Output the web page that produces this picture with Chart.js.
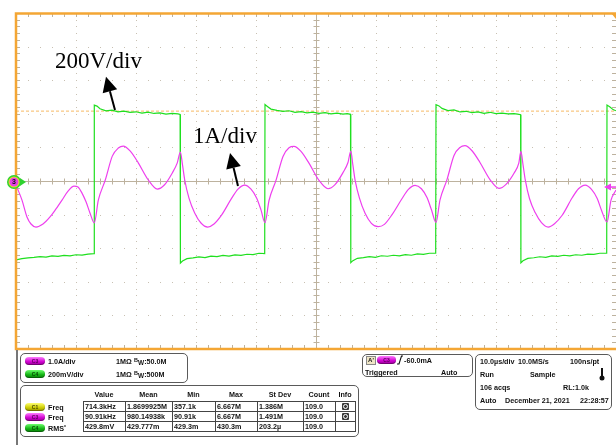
<!DOCTYPE html>
<html>
<head>
<meta charset="utf-8">
<script src="https://cdn.jsdelivr.net/npm/chart.js@4.4.1/dist/chart.umd.min.js"></script>
<style>
html, body { margin: 0; padding: 0; background: #fff; }
body { width: 616px; height: 445px; position: relative; overflow: hidden; font-family: "Liberation Sans", Arial, sans-serif; }
#wrap { position: absolute; left: 0; top: 0; width: 616px; height: 352px; }
.panel { position: absolute; border: 1.5px solid #5a5a5a; border-radius: 5px; background: #fff; box-sizing: border-box; }
.t { position: absolute; font-size: 7.2px; font-weight: bold; color: #111; white-space: nowrap; line-height: 9px; }
.hd { position: absolute; font-size: 7.2px; font-weight: bold; color: #111; text-align: center; line-height: 9px; }
.badge { position: absolute; width: 20px; height: 8px; border-radius: 4px; font-size: 5px; font-weight: bold; line-height: 8px; text-align: center; box-shadow: inset 0 -1px 1px rgba(0,0,0,0.35); }
.c3 { background: linear-gradient(#ff7cff, #d000d0 60%, #a000a0); color: #5a005a; }
.c4 { background: linear-gradient(#6cff6c, #13b313 60%, #0a860a); color: #054a05; }
.c1 { background: linear-gradient(#ffff70, #cccc00 60%, #9a9a00); color: #4a4a00; }
table.meas { position: absolute; left: 83px; top: 401px; border-collapse: collapse; table-layout: fixed; }
table.meas td { border: 1px solid #444; padding: 0 0 0 1px; height: 9px; line-height: 9px; font-size: 7.2px; font-weight: bold; color: #111; white-space: nowrap; overflow: hidden; }
.info { display: inline-block; width: 7px; height: 7px; background: #3a3a3a; border-radius: 1px; position: relative; top: 1px; left: 5px; }
.info::after { content: ""; position: absolute; left: 1px; top: 1px; width: 3px; height: 3px; border: 1px solid #fff; border-radius: 50%; box-sizing: content-box; }
</style>
</head>
<body>
<div id="wrap"><canvas id="scope"></canvas></div>

<!-- lower read-out panel -->
<div style="position:absolute;left:16px;top:350px;width:1.5px;height:95px;background:#777;"></div>

<div class="panel" style="left:20px;top:353px;width:168px;height:30px;"></div>
<div class="badge c3" style="left:25px;top:357px;">C3</div>
<div class="t" style="left:48px;top:357px;">1.0A/div</div>
<div class="t" style="left:116px;top:357px;">1MΩ</div>
<div class="t" style="left:134px;top:357px;"><span style="font-size:5.5px;position:relative;top:-2px;">B</span><span style="font-size:6.5px;position:relative;top:1px;">W</span>:50.0M</div>
<div class="badge c4" style="left:25px;top:370px;">C4</div>
<div class="t" style="left:48px;top:370px;">200mV/div</div>
<div class="t" style="left:116px;top:370px;">1MΩ</div>
<div class="t" style="left:134px;top:370px;"><span style="font-size:5.5px;position:relative;top:-2px;">B</span><span style="font-size:6.5px;position:relative;top:1px;">W</span>:500M</div>

<div class="panel" style="left:20px;top:385px;width:339px;height:52px;"></div>
<div class="hd" style="left:83px;top:390px;width:42px;">Value</div>
<div class="hd" style="left:125px;top:390px;width:47px;">Mean</div>
<div class="hd" style="left:172px;top:390px;width:43px;">Min</div>
<div class="hd" style="left:215px;top:390px;width:42px;">Max</div>
<div class="hd" style="left:257px;top:390px;width:46px;">St Dev</div>
<div class="hd" style="left:303px;top:390px;width:32px;">Count</div>
<div class="hd" style="left:335px;top:390px;width:20px;">Info</div>
<div class="badge c1" style="left:25px;top:403px;">C1</div>
<div class="t" style="left:48px;top:403px;">Freq</div>
<div class="badge c3" style="left:25px;top:413px;">C3</div>
<div class="t" style="left:48px;top:413px;">Freq</div>
<div class="badge c4" style="left:25px;top:424px;">C4</div>
<div class="t" style="left:48px;top:424px;">RMS<span style="font-size:5px;position:relative;top:-2px;">*</span></div>
<table class="meas">
  <colgroup><col style="width:42px"><col style="width:47px"><col style="width:43px"><col style="width:42px"><col style="width:46px"><col style="width:32px"><col style="width:20px"></colgroup>
  <tr><td>714.3kHz</td><td>1.8699925M</td><td>357.1k</td><td>6.667M</td><td>1.386M</td><td>109.0</td><td><span class="info"></span></td></tr>
  <tr><td>90.91kHz</td><td>980.14938k</td><td>90.91k</td><td>6.667M</td><td>1.491M</td><td>109.0</td><td><span class="info"></span></td></tr>
  <tr><td>429.8mV</td><td>429.777m</td><td>429.3m</td><td>430.3m</td><td>203.2µ</td><td>109.0</td><td></td></tr>
</table>

<div class="panel" style="left:362px;top:354px;width:111px;height:23px;"></div>
<div style="position:absolute;left:366px;top:356px;width:8px;height:7px;background:#efe6c6;border:1px solid #888;font:bold 6px 'Liberation Sans',Arial;line-height:7px;text-align:center;color:#111;">A'</div>
<div class="badge c3" style="left:377px;top:356px;width:19px;">C3</div>
<svg style="position:absolute;left:397px;top:355px;" width="6" height="10"><path d="M0 9 L2 9 L4.5 1 L6 1" stroke="#111" stroke-width="1.1" fill="none"/></svg>
<div class="t" style="left:404px;top:356px;">-60.0mA</div>
<div class="t" style="left:365px;top:368px;">Triggered</div>
<div class="t" style="left:441px;top:368px;">Auto</div>

<div class="panel" style="left:475px;top:354px;width:137px;height:56px;"></div>
<div class="t" style="left:480px;top:357px;">10.0µs/div</div>
<div class="t" style="left:518px;top:357px;">10.0MS/s</div>
<div class="t" style="left:570px;top:357px;">100ns/pt</div>
<div class="t" style="left:480px;top:370px;">Run</div>
<div class="t" style="left:530px;top:370px;">Sample</div>
<svg style="position:absolute;left:599px;top:368px;" width="6" height="13"><rect x="2" y="0" width="2" height="9" fill="#111"/><circle cx="3" cy="10" r="2.5" fill="#111"/></svg>
<div class="t" style="left:480px;top:383px;">106 acqs</div>
<div class="t" style="left:563px;top:383px;">RL:1.0k</div>
<div class="t" style="left:480px;top:396px;">Auto</div>
<div class="t" style="left:505px;top:396px;">December 21, 2021</div>
<div class="t" style="left:580px;top:396px;">22:28:57</div>

<script>
// C3 current probe trace (µs, A), 1 A/div
const iTime = [
  0, 1.0, 1.83, 2.5, 3.33, 4.5, 5.67, 6.67, 7.67, 8.67, 9.67, 10.33, 11.0, 11.67, 12.33,
  13.05, 13.72, 14.88, 16.05, 17.05, 17.88, 19.05, 20.38, 22.05, 23.55, 24.72, 26.05, 26.88, 27.4,
  27.75, 28.12, 28.83, 29.78, 30.83, 31.95, 33.0, 34.28, 35.95, 37.0, 38.12, 39.17, 40.12, 40.83,
  41.5, 42.17, 43.33, 44.5, 45.5, 46.33, 47.5, 48.83, 50.5, 52.0, 53.17, 54.5, 55.33, 55.8,
  56.15, 56.52, 57.23, 58.18, 59.23, 60.35, 61.4, 62.68, 64.35, 65.4, 66.52, 67.57, 68.52, 69.23,
  70.0, 70.67, 71.83, 73.0, 74.0, 74.83, 76.0, 77.33, 79.0, 80.5, 81.67, 83.0, 83.8, 84.15,
  84.5, 84.87, 85.58, 86.53, 87.58, 88.7, 89.75, 91.03, 92.7, 93.75, 94.87, 95.92, 96.87, 97.58,
  98.5, 99.17, 100
];
const iAmps = [
  -0.12, -0.57, -1.07, -1.28, -1.37, -1.28, -1.07, -0.83, -0.57, -0.30, -0.15, -0.18, -0.36, -0.62, -0.95,
  -1.25, -0.57, 0.03, 0.74, 0.98, 1.04, 0.89, 0.54, 0.03, -0.24, -0.12, 0.24, 0.54, 0.86,
  0.48, 0.03, -0.51, -0.95, -1.25, -1.37, -1.28, -1.01, -0.51, -0.24, -0.12, -0.24, -0.51, -0.86,
  -1.24, -0.58, 0.02, 0.73, 0.99, 1.03, 0.88, 0.53, 0.02, -0.23, -0.11, 0.25, 0.55, 0.89,
  0.47, 0.02, -0.50, -0.96, -1.26, -1.36, -1.29, -1.00, -0.52, -0.25, -0.13, -0.23, -0.50, -0.85,
  -1.23, -0.56, 0.04, 0.76, 1.00, 1.05, 0.90, 0.55, 0.04, -0.22, -0.10, 0.23, 0.53, 0.88,
  0.49, 0.04, -0.52, -0.94, -1.24, -1.37, -1.27, -1.02, -0.50, -0.23, -0.12, -0.25, -0.52, -0.87,
  -1.22, -0.57, -0.27
];

// C4 voltage trace (µs, V), 200 V/div
const vTime = [
  0, 1, 2, 3, 4, 5, 6, 7, 8, 9, 10, 11, 12, 13.0,
  13.05, 13.5, 14, 15, 16, 17, 18, 19, 20, 21, 22, 23, 24, 25, 26, 27, 27.35,
  27.4, 27.75, 28.5, 29.5, 30.5, 31.5, 32.5, 33.5, 34.5, 35.5, 36.5, 37.5, 38.5, 39.5, 40.5, 41.45,
  41.5, 41.9, 42.5, 43.5, 44.5, 45.5, 46.5, 47.5, 48.5, 49.5, 50.5, 51.5, 52.5, 53.5, 54.5, 55.2, 55.75,
  55.8, 56.15, 56.9, 57.9, 58.9, 59.9, 60.9, 61.9, 62.9, 63.9, 64.9, 65.9, 66.9, 67.9, 68.9, 69.95,
  70.0, 70.5, 71, 72, 73, 74, 75, 76, 77, 78, 79, 80, 81, 82, 83, 83.6, 84.1,
  84.15, 84.5, 85.3, 86.3, 87.3, 88.3, 89.3, 90.3, 91.3, 92.3, 93.3, 94.3, 95.3, 96.3, 97.3, 98.45,
  98.5, 99, 99.5, 100
];
const vVolts = [
  -470, -462, -458, -455, -450, -453, -446, -449, -443, -446, -439, -441, -435, -432,
  452, 446, 430, 418, 422, 412, 416, 408, 412, 404, 410, 402, 405, 398, 402, 399, 396,
  -488, -476, -462, -458, -452, -456, -447, -450, -443, -447, -440, -443, -436, -438, -430, -432,
  455, 444, 428, 420, 414, 418, 409, 413, 406, 410, 403, 407, 400, 404, 398, 401, 397,
  -486, -474, -460, -456, -450, -454, -445, -448, -442, -446, -438, -442, -434, -437, -430, -429,
  454, 447, 432, 419, 423, 411, 415, 407, 411, 403, 409, 401, 404, 399, 401, 398, 395,
  -487, -475, -461, -457, -451, -455, -446, -449, -442, -446, -439, -442, -435, -437, -430, -430,
  452, 440, 425, 418
];

const cursorVolts = 416;

// screen: 10 div x 10 div
const timeRange = [0, 100];   // µs, 10 µs/div
const ampRange = [-5, 5];     // A, 1 A/div
const voltRange = [-1000, 1000]; // V, 200 V/div

// labels drawn on the screenshot, in data units (µs, A)
const notes = [
  { text: '200V/div', x: 6.5, y: 3.36, tip: [15.0, 3.10], tail: [16.5, 2.11] },
  { text: '1A/div', x: 29.5, y: 1.13, tip: [35.67, 0.83], tail: [37.0, -0.15] }
];

const ORANGE = '#f4a634';

const graticule = {
    id: 'graticule',
    beforeDatasetsDraw(chart) {
        const { ctx, chartArea: a } = chart;
        const x = chart.scales.x, y = chart.scales.yI;
        ctx.save();

        // dotted division lines
        ctx.fillStyle = '#c8c0b2';
        for (let gx = 10; gx < 100; gx += 10) {
            if (gx === 50) continue;
            const px = Math.round(x.getPixelForValue(gx));
            for (let gy = -5; gy <= 5.001; gy += 0.2) {
                ctx.fillRect(px, Math.round(y.getPixelForValue(gy)), 1, 1);
            }
        }
        for (let gy = -4; gy <= 4; gy++) {
            if (gy === 0) continue;
            const py = Math.round(y.getPixelForValue(gy));
            for (let gx = 0; gx <= 100; gx += 2) {
                ctx.fillRect(Math.round(x.getPixelForValue(gx)), py, 1, 1);
            }
        }

        // centre cross with minor ticks
        const cx = Math.round(x.getPixelForValue(50)) + 0.5;
        const cy = Math.round(y.getPixelForValue(0)) + 0.5;
        ctx.strokeStyle = '#bdb29e';
        ctx.lineWidth = 1;
        ctx.beginPath();
        ctx.moveTo(a.left, cy); ctx.lineTo(a.right, cy);
        ctx.moveTo(cx, a.top); ctx.lineTo(cx, a.bottom);
        for (let gx = 0; gx <= 100; gx += 2) {
            const px = Math.round(x.getPixelForValue(gx)) + 0.5;
            ctx.moveTo(px, cy - 3); ctx.lineTo(px, cy + 3);
            ctx.moveTo(px, a.top); ctx.lineTo(px, a.top + 4);
            ctx.moveTo(px, a.bottom); ctx.lineTo(px, a.bottom - 4);
        }
        for (let gy = -5; gy <= 5.001; gy += 0.2) {
            const py = Math.round(y.getPixelForValue(gy)) + 0.5;
            ctx.moveTo(cx - 3, py); ctx.lineTo(cx + 3, py);
            ctx.moveTo(a.left, py); ctx.lineTo(a.left + 4, py);
            ctx.moveTo(a.right, py); ctx.lineTo(a.right - 4, py);
        }
        ctx.stroke();
        ctx.restore();
    }
};

const overlay = {
    id: 'overlay',
    afterDatasetsDraw(chart) {
        const { ctx, chartArea: a } = chart;
        const x = chart.scales.x, y = chart.scales.yI;
        ctx.save();

        // orange frame (left, top, bottom)
        ctx.strokeStyle = ORANGE;
        ctx.lineWidth = 2.5;
        ctx.beginPath();
        ctx.moveTo(a.right, a.top + 0.5);
        ctx.lineTo(a.left, a.top + 0.5);
        ctx.lineTo(a.left, a.bottom);
        ctx.lineTo(a.right, a.bottom);
        ctx.stroke();

        // trigger position marker top right
        ctx.fillStyle = ORANGE;
        ctx.beginPath();
        ctx.moveTo(a.right - 5, a.top);
        ctx.lineTo(a.right, a.top);
        ctx.lineTo(a.right, a.top + 6);
        ctx.closePath();
        ctx.fill();

        // ground marker on the left
        const gx = a.left - 2, gy = y.getPixelForValue(0) + 1;
        ctx.fillStyle = '#2fd22f';
        ctx.beginPath(); ctx.moveTo(gx + 6, gy - 4); ctx.lineTo(gx + 12, gy); ctx.lineTo(gx + 6, gy + 4); ctx.fill();
        ctx.fillRect(gx, gy - 1, 8, 2);
        ctx.beginPath(); ctx.arc(gx, gy, 7, 0, Math.PI * 2); ctx.fill();
        ctx.fillStyle = '#e8e020';
        ctx.beginPath(); ctx.arc(gx, gy, 5.5, 0, Math.PI * 2); ctx.fill();
        ctx.fillStyle = '#e640e6';
        ctx.beginPath(); ctx.arc(gx, gy, 4.5, 0, Math.PI * 2); ctx.fill();
        ctx.fillStyle = '#111';
        ctx.font = 'bold 7px "Liberation Sans", Arial';
        ctx.textAlign = 'center';
        ctx.textBaseline = 'middle';
        ctx.fillText('3', gx, gy + 0.5);

        // off-screen current arrow on the right
        const ry = y.getPixelForValue(-0.18);
        ctx.strokeStyle = '#ee3fee';
        ctx.fillStyle = '#ee3fee';
        ctx.lineWidth = 1.5;
        ctx.beginPath(); ctx.moveTo(a.right - 6, ry); ctx.lineTo(a.right, ry); ctx.stroke();
        ctx.beginPath(); ctx.moveTo(a.right - 12, ry); ctx.lineTo(a.right - 5, ry - 3.5); ctx.lineTo(a.right - 5, ry + 3.5); ctx.fill();

        // hand-drawn labels and arrows
        ctx.fillStyle = '#000';
        ctx.strokeStyle = '#000';
        ctx.textAlign = 'left';
        ctx.textBaseline = 'alphabetic';
        ctx.font = '23px "Liberation Serif", "DejaVu Serif", serif';
        notes.forEach(n => {
            ctx.fillText(n.text, x.getPixelForValue(n.x), y.getPixelForValue(n.y));
            const tx = x.getPixelForValue(n.tip[0]), ty = y.getPixelForValue(n.tip[1]);
            const bx = x.getPixelForValue(n.tail[0]), by = y.getPixelForValue(n.tail[1]);
            const ang = Math.atan2(ty - by, tx - bx);
            const hl = 15, hw = 7.5;
            const hx = tx - Math.cos(ang) * hl, hy = ty - Math.sin(ang) * hl;
            ctx.lineWidth = 2;
            ctx.beginPath(); ctx.moveTo(bx, by); ctx.lineTo(hx, hy); ctx.stroke();
            ctx.beginPath();
            ctx.moveTo(tx, ty);
            ctx.lineTo(hx + Math.sin(ang) * hw, hy - Math.cos(ang) * hw);
            ctx.lineTo(hx - Math.sin(ang) * hw, hy + Math.cos(ang) * hw);
            ctx.closePath();
            ctx.fill();
        });
        ctx.restore();
    }
};

new Chart(document.getElementById('scope'), {
    type: 'line',
    data: {
        datasets: [{
            label: 'C3 1.0A/div',
            data: iTime.map((t, i) => ({ x: t, y: iAmps[i] })),
            yAxisID: 'yI',
            borderColor: '#ee3fee',
            borderWidth: 1.2,
            pointRadius: 0,
            cubicInterpolationMode: 'monotone'
        }, {
            label: 'C4 200V/div',
            data: vTime.map((t, i) => ({ x: t, y: vVolts[i] })),
            yAxisID: 'yV',
            borderColor: '#1fdf1f',
            borderWidth: 1.2,
            pointRadius: 0,
            tension: 0
        }, {
            label: 'cursor',
            data: [{ x: timeRange[0], y: cursorVolts }, { x: timeRange[1], y: cursorVolts }],
            yAxisID: 'yV',
            borderColor: 'rgba(246,178,82,0.9)',
            borderDash: [3, 2],
            borderWidth: 1,
            pointRadius: 0
        }]
    },
    options: {
        responsive: true,
        maintainAspectRatio: false,
        animation: false,
        events: [],
        layout: { padding: { left: 16, top: 13, right: 0, bottom: 3 } },
        scales: {
            x: { type: 'linear', min: timeRange[0], max: timeRange[1], display: false },
            yI: { type: 'linear', min: ampRange[0], max: ampRange[1], display: false },
            yV: { type: 'linear', min: voltRange[0], max: voltRange[1], display: false }
        },
        plugins: {
            legend: { display: false },
            tooltip: { enabled: false }
        }
    },
    plugins: [graticule, overlay]
});
</script>
</body>
</html>
